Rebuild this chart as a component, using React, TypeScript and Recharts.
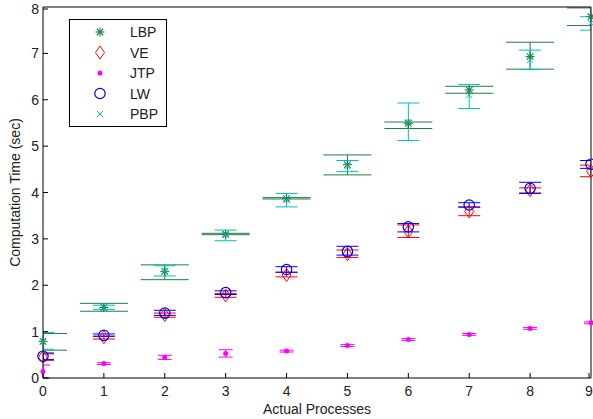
import React from 'react';
import { ScatterChart, Scatter, XAxis, YAxis, ErrorBar, Legend } from 'recharts';

// x positions (number of actual processes)
const processes = [0, 1, 2, 3, 4, 5, 6, 7, 8, 9];
const xTicks = [0, 1, 2, 3, 4, 5, 6, 7, 8, 9];
const yTicks = [0, 1, 2, 3, 4, 5, 6, 7, 8];

// mean computation time (sec) and error bar limits
const lbpMean = [0.79, 1.52, 2.30, 3.10, 3.87, 4.60, 5.49, 6.21, 6.93, 7.79];
const lbpLow = [0.60, 1.44, 2.12, 3.09, 3.86, 4.38, 5.38, 6.14, 6.66, 7.60];
const lbpHigh = [0.96, 1.61, 2.44, 3.12, 3.89, 4.81, 5.52, 6.29, 7.24, 7.98];

const veMean = [0.45, 0.88, 1.36, 1.78, 2.22, 2.67, 3.16, 3.59, 4.05, 4.46];
const veLow = [0.38, 0.84, 1.31, 1.74, 2.18, 2.60, 3.03, 3.50, 3.99, 4.34];
const veHigh = [0.52, 0.90, 1.40, 1.82, 2.28, 2.76, 3.30, 3.68, 4.10, 4.59];

const jtpMean = [0.14, 0.31, 0.45, 0.53, 0.58, 0.70, 0.83, 0.94, 1.07, 1.19];
const jtpLow = [0.00, 0.29, 0.40, 0.45, 0.56, 0.68, 0.81, 0.92, 1.05, 1.17];
const jtpHigh = [0.28, 0.33, 0.49, 0.61, 0.60, 0.72, 0.85, 0.96, 1.09, 1.21];

const lwMean = [0.47, 0.92, 1.40, 1.84, 2.34, 2.73, 3.26, 3.73, 4.09, 4.61];
const lwLow = [0.40, 0.90, 1.35, 1.80, 2.28, 2.65, 3.15, 3.69, 3.98, 4.52];
const lwHigh = [0.54, 0.95, 1.46, 1.88, 2.40, 2.84, 3.33, 3.78, 4.22, 4.69];

const pbpMean = [0.78, 1.52, 2.31, 3.08, 3.84, 4.57, 5.52, 6.10, 6.86, 7.65];
const pbpLow = [0.62, 1.48, 2.20, 2.96, 3.69, 4.45, 5.12, 5.81, 6.65, 7.50];
const pbpHigh = [0.98, 1.57, 2.42, 3.19, 3.98, 4.69, 5.93, 6.33, 7.07, 7.79];

const W = 593;
const H = 419;
const MARGIN = { top: 6, right: 1, bottom: 0, left: 0 };
const Y_AXIS_W = 43;
const X_AXIS_H = 41;
const BOX_AXIS = 1; // size of the mirrored top/right axes
const PLOT = {
  x: MARGIN.left + Y_AXIS_W,
  y: MARGIN.top + BOX_AXIS,
  w: W - MARGIN.left - MARGIN.right - Y_AXIS_W - BOX_AXIS,
  h: H - MARGIN.top - MARGIN.bottom - X_AXIS_H - BOX_AXIS,
};
const FONT = '"Liberation Sans", Arial, sans-serif';
const TEXT = '#222';
const TICK_LEN = 5;

const build = (mean: number[], low: number[], high: number[]) =>
  processes.map((x, i) => ({ x, y: mean[i], err: [mean[i] - low[i], high[i] - mean[i]] }));

type MarkProps = { cx?: number; cy?: number };

const Asterisk = ({ cx = 0, cy = 0 }: MarkProps) => {
  const r = 4.5;
  const d = r * 0.72;
  return (
    <g stroke="#1f7f3f" strokeWidth={1.1} fill="none">
      <line x1={cx - r} y1={cy} x2={cx + r} y2={cy} />
      <line x1={cx} y1={cy - r} x2={cx} y2={cy + r} />
      <line x1={cx - d} y1={cy - d} x2={cx + d} y2={cy + d} />
      <line x1={cx - d} y1={cy + d} x2={cx + d} y2={cy - d} />
    </g>
  );
};

const Diamond = ({ cx = 0, cy = 0 }: MarkProps) => (
  <polygon
    points={`${cx},${cy - 6.5} ${cx + 4.5},${cy} ${cx},${cy + 6.5} ${cx - 4.5},${cy}`}
    fill="none"
    stroke="#ff0000"
    strokeWidth={1}
  />
);

const Dot = ({ cx = 0, cy = 0 }: MarkProps) => <circle cx={cx} cy={cy} r={2.5} fill="#ff00ff" />;

const Ring = ({ cx = 0, cy = 0 }: MarkProps) => (
  <circle cx={cx} cy={cy} r={5.2} fill="none" stroke="#0000ff" strokeWidth={1.2} />
);

const Cross = ({ cx = 0, cy = 0 }: MarkProps) => {
  const r = 3;
  return (
    <g stroke="#00bfbf" strokeWidth={1}>
      <line x1={cx - r} y1={cy - r} x2={cx + r} y2={cy + r} />
      <line x1={cx - r} y1={cy + r} x2={cx + r} y2={cy - r} />
    </g>
  );
};

const series = [
  { name: 'LBP', data: build(lbpMean, lbpLow, lbpHigh), color: '#1f7f3f', cap: 24, shape: Asterisk },
  { name: 'VE', data: build(veMean, veLow, veHigh), color: '#ff0000', cap: 11, shape: Diamond },
  { name: 'JTP', data: build(jtpMean, jtpLow, jtpHigh), color: '#ff00ff', cap: 7, shape: Dot },
  { name: 'LW', data: build(lwMean, lwLow, lwHigh), color: '#0000ff', cap: 11, shape: Ring },
  { name: 'PBP', data: build(pbpMean, pbpLow, pbpHigh), color: '#00bfbf', cap: 11, shape: Cross },
];

const LeftTick = ({ x, y, payload }: any) => (
  <g>
    <line x1={x} y1={y} x2={x + TICK_LEN} y2={y} stroke="#000" />
    <text x={x - 4} y={y} dy="0.36em" textAnchor="end" fontSize={14} fill={TEXT} fontFamily={FONT}>
      {payload.value}
    </text>
  </g>
);

const BottomTick = ({ x, y, payload }: any) => (
  <g>
    <line x1={x} y1={y} x2={x} y2={y - TICK_LEN} stroke="#000" />
    <text x={x} y={y + 8} dy="0.71em" textAnchor="middle" fontSize={14} fill={TEXT} fontFamily={FONT}>
      {payload.value}
    </text>
  </g>
);

const TopTick = ({ x, y }: any) => <line x1={x} y1={y} x2={x} y2={y + TICK_LEN} stroke="#000" />;
const RightTick = ({ x, y }: any) => <line x1={x} y1={y} x2={x - TICK_LEN} y2={y} stroke="#000" />;

const LegendBox = () => (
  <svg width={98} height={108} style={{ display: 'block' }}>
    <rect x={0.5} y={0.5} width={97} height={107} fill="#fff" stroke="#000" strokeWidth={1} />
    {series.map((s, i) => {
      const Shape = s.shape;
      const cy = 13 + i * 20.5;
      return (
        <g key={s.name}>
          <Shape cx={31} cy={cy} />
          <text x={61} y={cy} dy="0.36em" fontSize={14} fill={TEXT} fontFamily={FONT}>
            {s.name}
          </text>
        </g>
      );
    })}
  </svg>
);

export default function App() {
  return (
    <div style={{ position: 'absolute', left: 0, top: 0, width: W, height: H, background: '#fff', fontFamily: FONT }}>
      <style>{`.recharts-errorBars, .recharts-errorBar { clip-path: url(#eb-clip); }`}</style>
      <svg width={0} height={0} style={{ position: 'absolute' }}>
        <defs>
          <clipPath id="eb-clip">
            <rect x={PLOT.x} y={PLOT.y - 2} width={PLOT.w} height={PLOT.h + 4} />
          </clipPath>
        </defs>
      </svg>
      <ScatterChart width={W} height={H} margin={MARGIN}>
        <XAxis
          type="number"
          dataKey="x"
          domain={[0, 9]}
          ticks={xTicks}
          height={X_AXIS_H}
          tickSize={0}
          tickMargin={0}
          tickLine={false}
          tick={<BottomTick />}
          axisLine={{ stroke: '#000' }}
          label={{ value: 'Actual Processes', position: 'insideBottom', offset: 5, fontSize: 14, fill: TEXT }}
        />
        <XAxis
          xAxisId="top"
          orientation="top"
          type="number"
          dataKey="x"
          domain={[0, 9]}
          ticks={xTicks}
          height={BOX_AXIS}
          tickSize={0}
          tickMargin={0}
          tickLine={false}
          tick={<TopTick />}
          axisLine={{ stroke: '#000' }}
        />
        <YAxis
          type="number"
          dataKey="y"
          domain={[0, 8]}
          ticks={yTicks}
          width={Y_AXIS_W}
          tickSize={0}
          tickMargin={0}
          tickLine={false}
          tick={<LeftTick />}
          axisLine={{ stroke: '#000' }}
          label={{
            value: 'Computation Time (sec)',
            angle: -90,
            position: 'insideLeft',
            offset: 15,
            fontSize: 14,
            fill: TEXT,
            style: { textAnchor: 'middle' },
          }}
        />
        <YAxis
          yAxisId="right"
          orientation="right"
          type="number"
          dataKey="y"
          domain={[0, 8]}
          ticks={yTicks}
          width={BOX_AXIS}
          tickSize={0}
          tickMargin={0}
          tickLine={false}
          tick={<RightTick />}
          axisLine={{ stroke: '#000' }}
        />
        {series.map((s) => (
          <Scatter
            key={s.name}
            name={s.name}
            data={s.data}
            shape={<s.shape />}
            isAnimationActive={false}
          >
            <ErrorBar
              dataKey="err"
              direction="y"
              width={s.cap}
              stroke={s.color}
              strokeWidth={1}
              isAnimationActive={false}
            />
          </Scatter>
        ))}
        <Legend
          layout="vertical"
          align="center"
          verticalAlign="middle"
          content={<LegendBox />}
          wrapperStyle={{ left: 69, top: 19, width: 98, height: 108 }}
        />
      </ScatterChart>
    </div>
  );
}
